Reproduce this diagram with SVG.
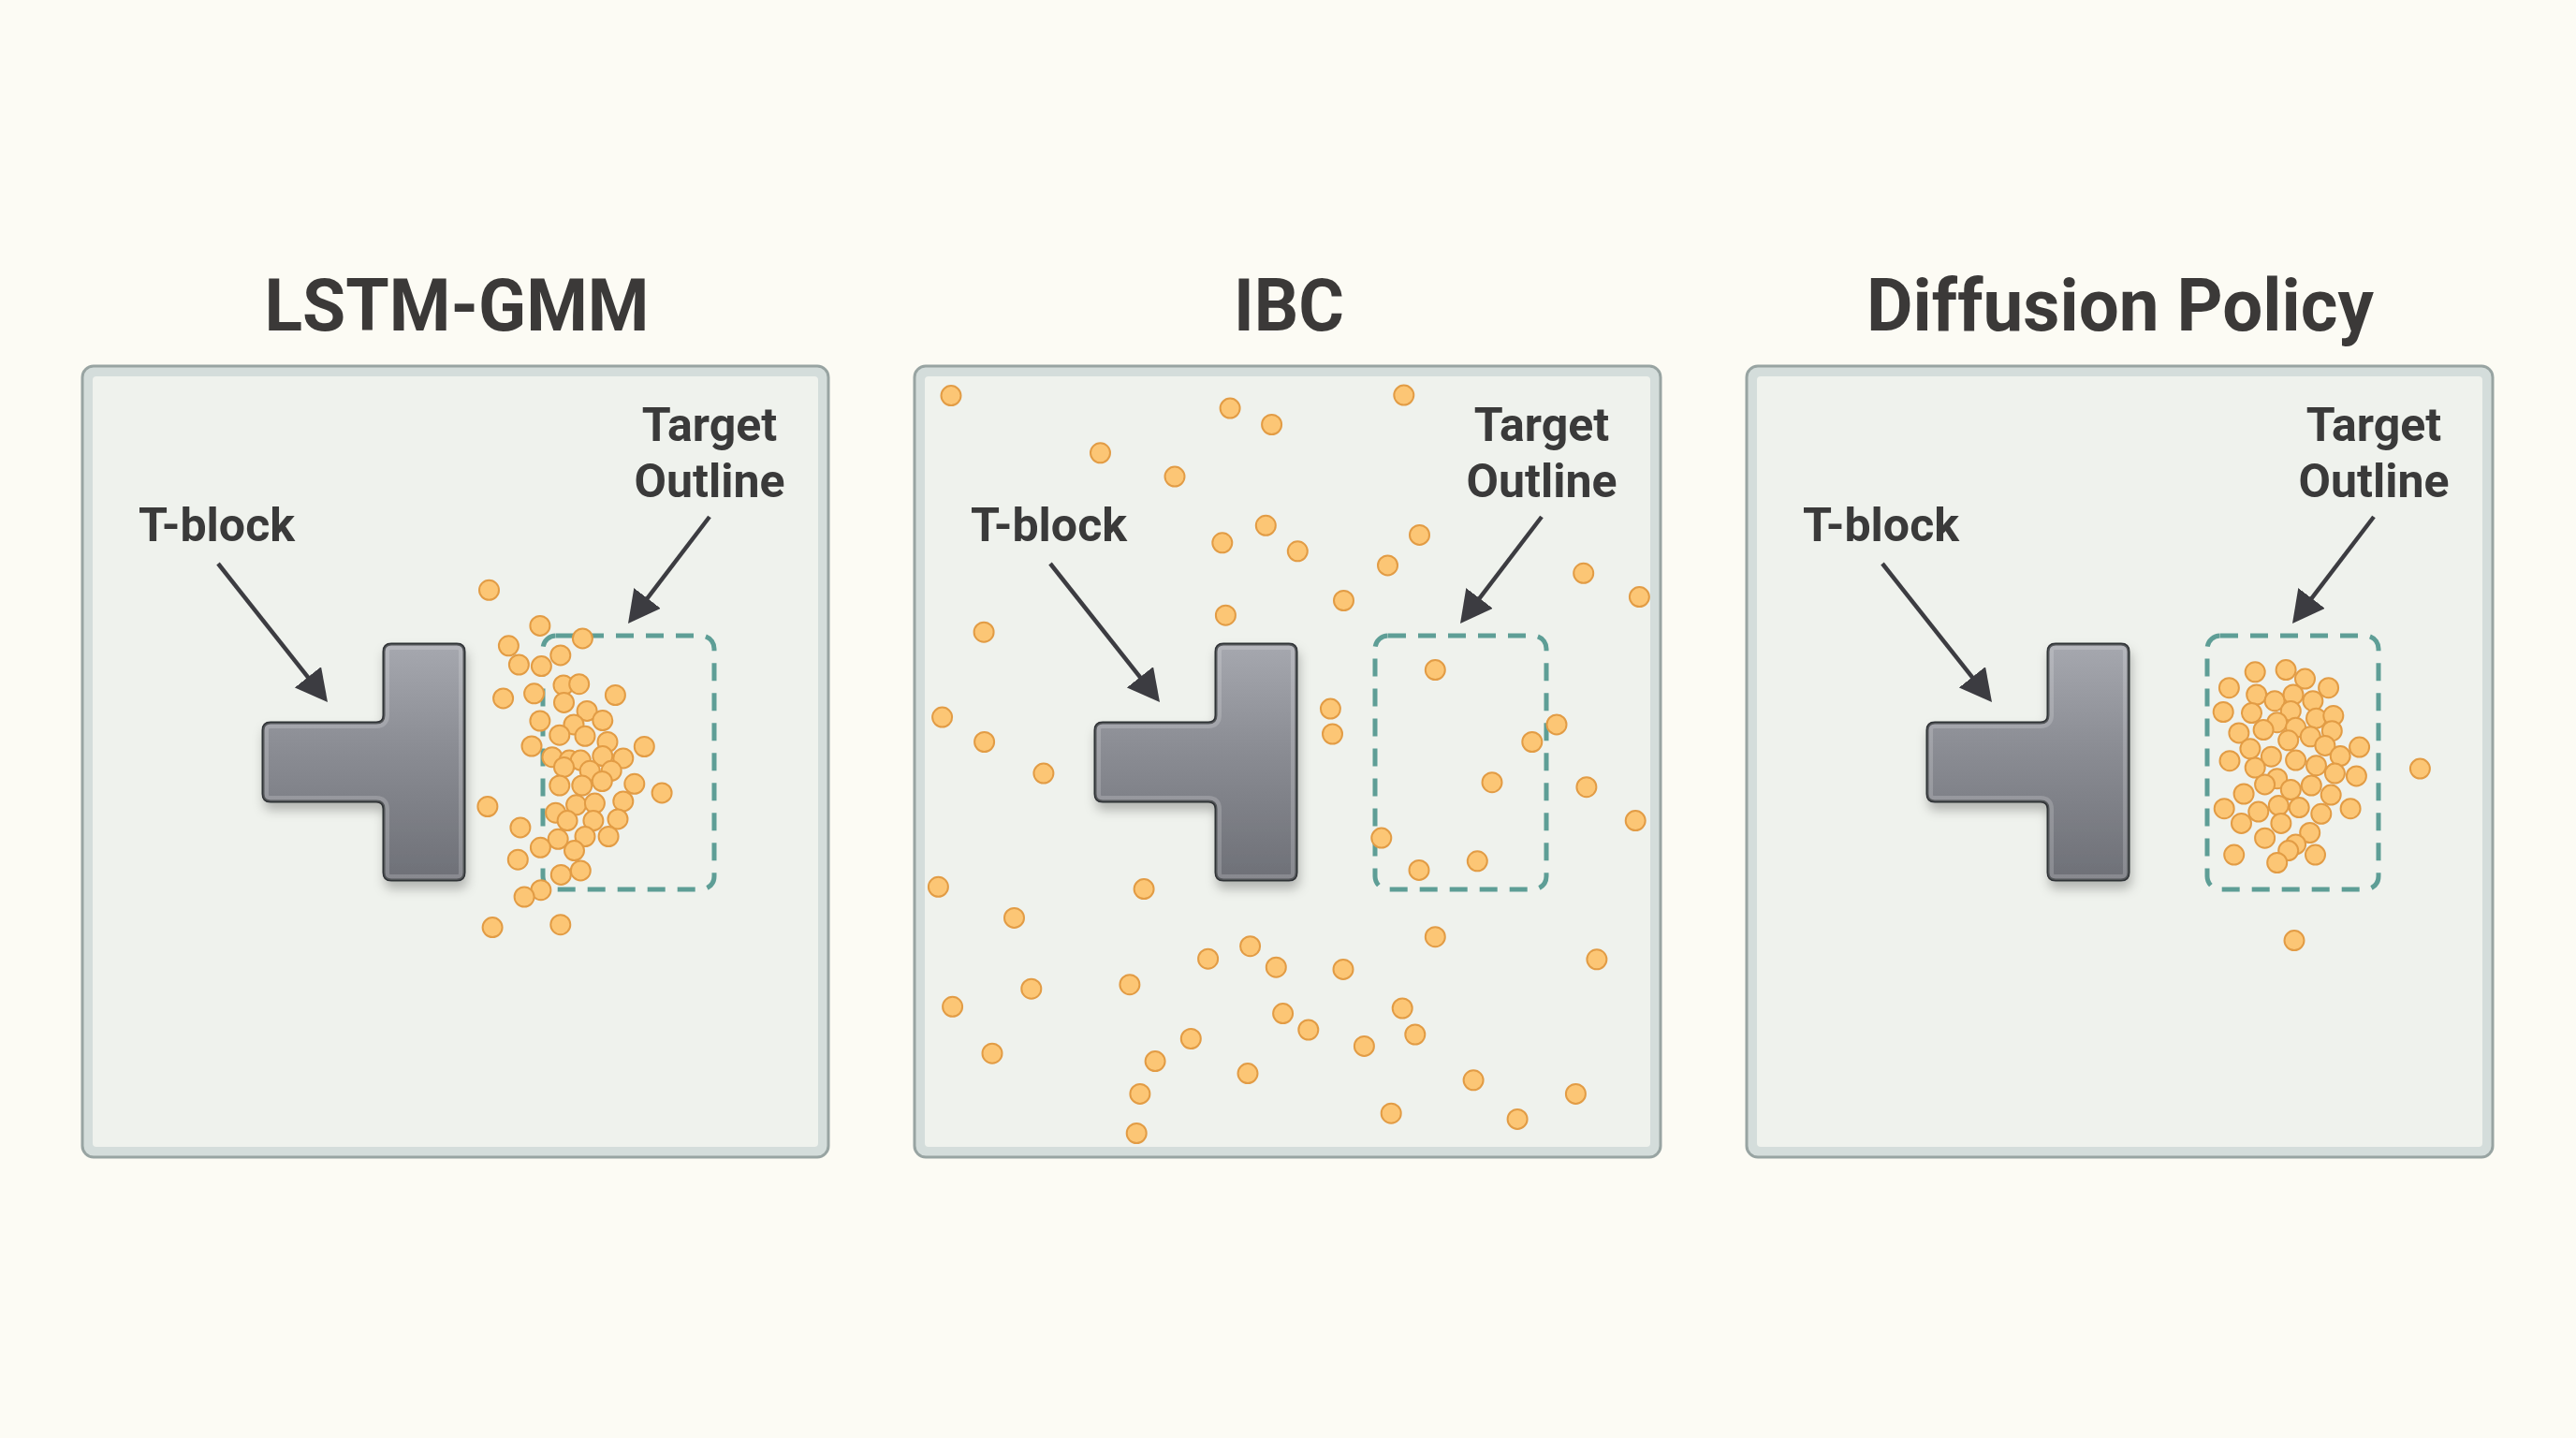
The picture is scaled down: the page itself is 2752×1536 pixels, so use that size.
<svg xmlns="http://www.w3.org/2000/svg" xmlns:xlink="http://www.w3.org/1999/xlink" width="2752" height="1536" viewBox="0 0 2752 1536">
  <defs>
    <style>
      .title { font-family: Roboto, "Liberation Sans", sans-serif; font-weight: 700; font-size: 77px; fill: #3b3938; text-anchor: middle; }
      .label { font-family: Roboto, "Liberation Sans", sans-serif; font-weight: 700; font-size: 50px; fill: #3a3a3a; }
      .panel-outer { fill: #d4dddb; stroke: #98a4a2; stroke-width: 3; }
      .panel-inner { fill: #eff2ed; }
      .target { fill: none; stroke: #5e9e96; stroke-width: 5; stroke-dasharray: 19 13; }
      .dot { fill: #fcc675; stroke: #e29c45; stroke-width: 2; }
      .arrow { fill: none; stroke: #3c3c41; stroke-width: 4.5; marker-end: url(#arrowhead); }
      .tblock { fill: url(#tgrad); stroke: #2f3035; stroke-width: 3; filter: url(#shadow); }
      .tbevel { fill: none; stroke: #ffffff; stroke-opacity: 0.18; stroke-width: 12; clip-path: url(#tclip); }
    </style>
    <linearGradient id="tgrad" x1="0" y1="688" x2="0" y2="940" gradientUnits="userSpaceOnUse">
      <stop offset="0" stop-color="#a6a8af"/>
      <stop offset="0.45" stop-color="#8a8c93"/>
      <stop offset="1" stop-color="#6e7077"/>
    </linearGradient>
    <filter id="shadow" x="-20%" y="-20%" width="140%" height="150%">
      <feDropShadow dx="2" dy="8" stdDeviation="6" flood-color="#000" flood-opacity="0.25"/>
    </filter>
    <marker id="arrowhead" viewBox="0 0 34 36" refX="19" refY="18" markerWidth="34" markerHeight="36" orient="auto" markerUnits="userSpaceOnUse">
      <path d="M0,0 L34,18 L0,36 Z" fill="#3c3c41"/>
    </marker>
    <path id="tshape" d="M289,772 H402 Q410,772 410,764 V696 Q410,688 418,688 H488 Q496,688 496,696 V932 Q496,940 488,940 H418 Q410,940 410,932 V864 Q410,856 402,856 H289 Q281,856 281,848 V780 Q281,772 289,772 Z"/>
    <clipPath id="tclip"><use xlink:href="#tshape"/></clipPath>
  </defs>

  <rect x="0" y="0" width="2752" height="1536" fill="#fcfbf4"/>

  <!-- Titles -->
  <g id="title-lstm-gmm"><text class="title" x="488" y="353" textLength="411" lengthAdjust="spacingAndGlyphs">LSTM-GMM</text></g>
  <g id="title-ibc"><text class="title" x="1377" y="353" textLength="118" lengthAdjust="spacingAndGlyphs">IBC</text></g>
  <g id="title-diffusion-policy"><text class="title" x="2265" y="353" textLength="542" lengthAdjust="spacingAndGlyphs">Diffusion Policy</text></g>

  <!-- Panels -->
  <g id="panel-lstm-gmm">
    <rect class="panel-outer" x="88" y="391" width="797" height="845" rx="12"/>
    <rect class="panel-inner" x="99" y="402" width="775" height="823" rx="4"/>
  </g>
  <g id="panel-ibc">
    <rect class="panel-outer" x="977" y="391" width="797" height="845" rx="12"/>
    <rect class="panel-inner" x="988" y="402" width="775" height="823" rx="4"/>
  </g>
  <g id="panel-diffusion-policy">
    <rect class="panel-outer" x="1866" y="391" width="797" height="845" rx="12"/>
    <rect class="panel-inner" x="1877" y="402" width="775" height="823" rx="4"/>
  </g>

  <!-- T-blocks -->
  <g id="tblock-1"><use xlink:href="#tshape" class="tblock"/><use xlink:href="#tshape" class="tbevel"/></g>
  <g id="tblock-2" transform="translate(889,0)"><use xlink:href="#tshape" class="tblock"/><use xlink:href="#tshape" class="tbevel"/></g>
  <g id="tblock-3" transform="translate(1778,0)"><use xlink:href="#tshape" class="tblock"/><use xlink:href="#tshape" class="tbevel"/></g>

  <!-- Target outlines -->
  <g id="target-1"><rect class="target" x="580" y="679" width="183" height="271" rx="14"/></g>
  <g id="target-2"><rect class="target" x="1469" y="679" width="183" height="271" rx="14"/></g>
  <g id="target-3"><rect class="target" x="2358" y="679" width="183" height="271" rx="14"/></g>

  <!-- Labels -->
  <g id="label-tblock-1"><text class="label" x="148" y="578" textLength="167" lengthAdjust="spacingAndGlyphs">T-block</text></g>
  <g id="label-target-1">
    <text class="label" x="758" y="471" text-anchor="middle">Target</text>
    <text class="label" x="758" y="531" text-anchor="middle">Outline</text>
  </g>
  <g id="label-tblock-2"><text class="label" x="1037" y="578" textLength="167" lengthAdjust="spacingAndGlyphs">T-block</text></g>
  <g id="label-target-2">
    <text class="label" x="1647" y="471" text-anchor="middle">Target</text>
    <text class="label" x="1647" y="531" text-anchor="middle">Outline</text>
  </g>
  <g id="label-tblock-3"><text class="label" x="1926" y="578" textLength="167" lengthAdjust="spacingAndGlyphs">T-block</text></g>
  <g id="label-target-3">
    <text class="label" x="2536" y="471" text-anchor="middle">Target</text>
    <text class="label" x="2536" y="531" text-anchor="middle">Outline</text>
  </g>

  <!-- Samples: LSTM-GMM -->
  <g id="samples-lstm-gmm">
    <circle class="dot" cx="522.5" cy="630.3" r="10.5"/>
    <circle class="dot" cx="576.9" cy="668.4" r="10.5"/>
    <circle class="dot" cx="622.4" cy="681.9" r="10.5"/>
    <circle class="dot" cx="543.4" cy="689.8" r="10.5"/>
    <circle class="dot" cx="554.4" cy="710" r="10.5"/>
    <circle class="dot" cx="598.8" cy="699.9" r="10.5"/>
    <circle class="dot" cx="578.4" cy="711.6" r="10.5"/>
    <circle class="dot" cx="537.6" cy="745.9" r="10.5"/>
    <circle class="dot" cx="570.6" cy="740.8" r="10.5"/>
    <circle class="dot" cx="602" cy="731.9" r="10.5"/>
    <circle class="dot" cx="618.7" cy="730.7" r="10.5"/>
    <circle class="dot" cx="657.4" cy="742.5" r="10.5"/>
    <circle class="dot" cx="602.5" cy="750.4" r="10.5"/>
    <circle class="dot" cx="627.1" cy="759.4" r="10.5"/>
    <circle class="dot" cx="576.9" cy="770" r="10.5"/>
    <circle class="dot" cx="613" cy="773.9" r="10.5"/>
    <circle class="dot" cx="643.8" cy="769.5" r="10.5"/>
    <circle class="dot" cx="597.8" cy="785.2" r="10.5"/>
    <circle class="dot" cx="625" cy="786.3" r="10.5"/>
    <circle class="dot" cx="649" cy="792.5" r="10.5"/>
    <circle class="dot" cx="568" cy="797" r="10.5"/>
    <circle class="dot" cx="688.3" cy="797.5" r="10.5"/>
    <circle class="dot" cx="589.9" cy="808.7" r="10.5"/>
    <circle class="dot" cx="608.2" cy="812.1" r="10.5"/>
    <circle class="dot" cx="620.3" cy="812.1" r="10.5"/>
    <circle class="dot" cx="643.8" cy="807.6" r="10.5"/>
    <circle class="dot" cx="665.8" cy="809.9" r="10.5"/>
    <circle class="dot" cx="602.5" cy="819.4" r="10.5"/>
    <circle class="dot" cx="630.2" cy="823.3" r="10.5"/>
    <circle class="dot" cx="653.2" cy="823.3" r="10.5"/>
    <circle class="dot" cx="677.8" cy="837.3" r="10.5"/>
    <circle class="dot" cx="597.8" cy="839" r="10.5"/>
    <circle class="dot" cx="621.8" cy="839" r="10.5"/>
    <circle class="dot" cx="643.3" cy="834.5" r="10.5"/>
    <circle class="dot" cx="707.1" cy="846.9" r="10.5"/>
    <circle class="dot" cx="520.9" cy="861.5" r="10.5"/>
    <circle class="dot" cx="615.6" cy="859.8" r="10.5"/>
    <circle class="dot" cx="635.4" cy="858.1" r="10.5"/>
    <circle class="dot" cx="665.8" cy="855.9" r="10.5"/>
    <circle class="dot" cx="593.6" cy="868.2" r="10.5"/>
    <circle class="dot" cx="606.1" cy="876.6" r="10.5"/>
    <circle class="dot" cx="633.9" cy="876.6" r="10.5"/>
    <circle class="dot" cx="660" cy="874.9" r="10.5"/>
    <circle class="dot" cx="555.9" cy="883.9" r="10.5"/>
    <circle class="dot" cx="625" cy="893.5" r="10.5"/>
    <circle class="dot" cx="650.1" cy="893.5" r="10.5"/>
    <circle class="dot" cx="596.2" cy="896.3" r="10.5"/>
    <circle class="dot" cx="577.4" cy="905.3" r="10.5"/>
    <circle class="dot" cx="613.5" cy="908.6" r="10.5"/>
    <circle class="dot" cx="553.3" cy="918.2" r="10.5"/>
    <circle class="dot" cx="620.3" cy="929.9" r="10.5"/>
    <circle class="dot" cx="599.3" cy="934.4" r="10.5"/>
    <circle class="dot" cx="577.9" cy="950.7" r="10.5"/>
    <circle class="dot" cx="560.1" cy="958" r="10.5"/>
    <circle class="dot" cx="526.1" cy="990.6" r="10.5"/>
    <circle class="dot" cx="598.8" cy="987.7" r="10.5"/>
  </g>

  <!-- Samples: IBC -->
  <g id="samples-ibc">
    <circle class="dot" cx="1016" cy="422.6" r="10.5"/>
    <circle class="dot" cx="1314.1" cy="436.1" r="10.5"/>
    <circle class="dot" cx="1358.6" cy="453.5" r="10.5"/>
    <circle class="dot" cx="1499.8" cy="422.1" r="10.5"/>
    <circle class="dot" cx="1175.5" cy="483.8" r="10.5"/>
    <circle class="dot" cx="1255" cy="509.1" r="10.5"/>
    <circle class="dot" cx="1352.3" cy="561.3" r="10.5"/>
    <circle class="dot" cx="1305.8" cy="579.8" r="10.5"/>
    <circle class="dot" cx="1386.3" cy="588.8" r="10.5"/>
    <circle class="dot" cx="1516.5" cy="571.4" r="10.5"/>
    <circle class="dot" cx="1482.5" cy="603.9" r="10.5"/>
    <circle class="dot" cx="1691.7" cy="612.3" r="10.5"/>
    <circle class="dot" cx="1751.4" cy="637.6" r="10.5"/>
    <circle class="dot" cx="1435.5" cy="641.5" r="10.5"/>
    <circle class="dot" cx="1309.4" cy="657.2" r="10.5"/>
    <circle class="dot" cx="1051.1" cy="675.2" r="10.5"/>
    <circle class="dot" cx="1533.3" cy="715.6" r="10.5"/>
    <circle class="dot" cx="1421.4" cy="757.1" r="10.5"/>
    <circle class="dot" cx="1423.5" cy="784" r="10.5"/>
    <circle class="dot" cx="1663" cy="773.9" r="10.5"/>
    <circle class="dot" cx="1636.8" cy="792.5" r="10.5"/>
    <circle class="dot" cx="1006.6" cy="766.1" r="10.5"/>
    <circle class="dot" cx="1051.6" cy="792.5" r="10.5"/>
    <circle class="dot" cx="1114.9" cy="826.1" r="10.5"/>
    <circle class="dot" cx="1594" cy="835.7" r="10.5"/>
    <circle class="dot" cx="1694.9" cy="840.7" r="10.5"/>
    <circle class="dot" cx="1747.2" cy="876.6" r="10.5"/>
    <circle class="dot" cx="1475.8" cy="895.1" r="10.5"/>
    <circle class="dot" cx="1516" cy="929.4" r="10.5"/>
    <circle class="dot" cx="1578.3" cy="919.8" r="10.5"/>
    <circle class="dot" cx="1002.4" cy="947.3" r="10.5"/>
    <circle class="dot" cx="1222.1" cy="949.6" r="10.5"/>
    <circle class="dot" cx="1083.5" cy="980.4" r="10.5"/>
    <circle class="dot" cx="1533.3" cy="1000.7" r="10.5"/>
    <circle class="dot" cx="1335.6" cy="1010.7" r="10.5"/>
    <circle class="dot" cx="1290.6" cy="1024.2" r="10.5"/>
    <circle class="dot" cx="1363.3" cy="1033.2" r="10.5"/>
    <circle class="dot" cx="1435" cy="1035.4" r="10.5"/>
    <circle class="dot" cx="1705.9" cy="1024.8" r="10.5"/>
    <circle class="dot" cx="1101.8" cy="1056.2" r="10.5"/>
    <circle class="dot" cx="1206.9" cy="1051.7" r="10.5"/>
    <circle class="dot" cx="1017.6" cy="1075.3" r="10.5"/>
    <circle class="dot" cx="1370.6" cy="1082.6" r="10.5"/>
    <circle class="dot" cx="1397.8" cy="1100" r="10.5"/>
    <circle class="dot" cx="1498.2" cy="1077" r="10.5"/>
    <circle class="dot" cx="1511.8" cy="1105" r="10.5"/>
    <circle class="dot" cx="1272.3" cy="1109.5" r="10.5"/>
    <circle class="dot" cx="1457.4" cy="1117.4" r="10.5"/>
    <circle class="dot" cx="1060" cy="1125.2" r="10.5"/>
    <circle class="dot" cx="1234.1" cy="1133.6" r="10.5"/>
    <circle class="dot" cx="1333" cy="1146.6" r="10.5"/>
    <circle class="dot" cx="1574.1" cy="1153.8" r="10.5"/>
    <circle class="dot" cx="1683.4" cy="1168.4" r="10.5"/>
    <circle class="dot" cx="1217.9" cy="1168.4" r="10.5"/>
    <circle class="dot" cx="1486.2" cy="1189.2" r="10.5"/>
    <circle class="dot" cx="1621.1" cy="1195.4" r="10.5"/>
    <circle class="dot" cx="1214.2" cy="1210.5" r="10.5"/>
  </g>

  <!-- Samples: Diffusion Policy -->
  <g id="samples-diffusion-policy">
    <circle class="dot" cx="2409.2" cy="717.8" r="10.5"/>
    <circle class="dot" cx="2442.1" cy="715.6" r="10.5"/>
    <circle class="dot" cx="2462.5" cy="725.1" r="10.5"/>
    <circle class="dot" cx="2381.4" cy="734.7" r="10.5"/>
    <circle class="dot" cx="2487.6" cy="734.7" r="10.5"/>
    <circle class="dot" cx="2410.7" cy="742" r="10.5"/>
    <circle class="dot" cx="2430.1" cy="748.7" r="10.5"/>
    <circle class="dot" cx="2450" cy="742" r="10.5"/>
    <circle class="dot" cx="2470.9" cy="748.7" r="10.5"/>
    <circle class="dot" cx="2375.2" cy="760.5" r="10.5"/>
    <circle class="dot" cx="2405.5" cy="761.6" r="10.5"/>
    <circle class="dot" cx="2447.3" cy="759.4" r="10.5"/>
    <circle class="dot" cx="2432.7" cy="771.7" r="10.5"/>
    <circle class="dot" cx="2474.5" cy="767.2" r="10.5"/>
    <circle class="dot" cx="2492.8" cy="764.4" r="10.5"/>
    <circle class="dot" cx="2391.9" cy="782.9" r="10.5"/>
    <circle class="dot" cx="2418.1" cy="779.6" r="10.5"/>
    <circle class="dot" cx="2452.6" cy="777.3" r="10.5"/>
    <circle class="dot" cx="2468.3" cy="786.8" r="10.5"/>
    <circle class="dot" cx="2491.3" cy="780.7" r="10.5"/>
    <circle class="dot" cx="2444.7" cy="790.8" r="10.5"/>
    <circle class="dot" cx="2483.9" cy="796.4" r="10.5"/>
    <circle class="dot" cx="2520.6" cy="798.1" r="10.5"/>
    <circle class="dot" cx="2403.9" cy="799.8" r="10.5"/>
    <circle class="dot" cx="2426.4" cy="808.2" r="10.5"/>
    <circle class="dot" cx="2382" cy="812.7" r="10.5"/>
    <circle class="dot" cx="2409.2" cy="820" r="10.5"/>
    <circle class="dot" cx="2452.6" cy="812.1" r="10.5"/>
    <circle class="dot" cx="2474.5" cy="817.7" r="10.5"/>
    <circle class="dot" cx="2500.2" cy="807.6" r="10.5"/>
    <circle class="dot" cx="2432.7" cy="831.7" r="10.5"/>
    <circle class="dot" cx="2494.4" cy="826.1" r="10.5"/>
    <circle class="dot" cx="2517.4" cy="828.9" r="10.5"/>
    <circle class="dot" cx="2419.6" cy="837.9" r="10.5"/>
    <circle class="dot" cx="2469.3" cy="839" r="10.5"/>
    <circle class="dot" cx="2447.3" cy="843.5" r="10.5"/>
    <circle class="dot" cx="2397.1" cy="848" r="10.5"/>
    <circle class="dot" cx="2490.2" cy="849.1" r="10.5"/>
    <circle class="dot" cx="2376.2" cy="863.7" r="10.5"/>
    <circle class="dot" cx="2434.3" cy="860.4" r="10.5"/>
    <circle class="dot" cx="2456.2" cy="862.6" r="10.5"/>
    <circle class="dot" cx="2412.8" cy="867.1" r="10.5"/>
    <circle class="dot" cx="2479.8" cy="869.3" r="10.5"/>
    <circle class="dot" cx="2511.1" cy="863.7" r="10.5"/>
    <circle class="dot" cx="2394.5" cy="879.4" r="10.5"/>
    <circle class="dot" cx="2436.9" cy="879.4" r="10.5"/>
    <circle class="dot" cx="2467.7" cy="889.5" r="10.5"/>
    <circle class="dot" cx="2419.6" cy="895.2" r="10.5"/>
    <circle class="dot" cx="2452.6" cy="901.9" r="10.5"/>
    <circle class="dot" cx="2444.7" cy="908.6" r="10.5"/>
    <circle class="dot" cx="2386.7" cy="913.1" r="10.5"/>
    <circle class="dot" cx="2473.5" cy="913.1" r="10.5"/>
    <circle class="dot" cx="2432.7" cy="921.5" r="10.5"/>
    <circle class="dot" cx="2585.4" cy="821.1" r="10.5"/>
    <circle class="dot" cx="2451" cy="1004.6" r="10.5"/>
  </g>

  <!-- Connectors -->
  <g id="connectors">
    <line class="arrow" x1="233" y1="602" x2="340.7" y2="738.2"/>
    <line class="arrow" x1="758" y1="552" x2="680.1" y2="654.1"/>
    <line class="arrow" x1="1122" y1="602" x2="1229.7" y2="738.2"/>
    <line class="arrow" x1="1647" y1="552" x2="1569.1" y2="654.1"/>
    <line class="arrow" x1="2011" y1="602" x2="2118.7" y2="738.2"/>
    <line class="arrow" x1="2536" y1="552" x2="2458.1" y2="654.1"/>
  </g>
</svg>
